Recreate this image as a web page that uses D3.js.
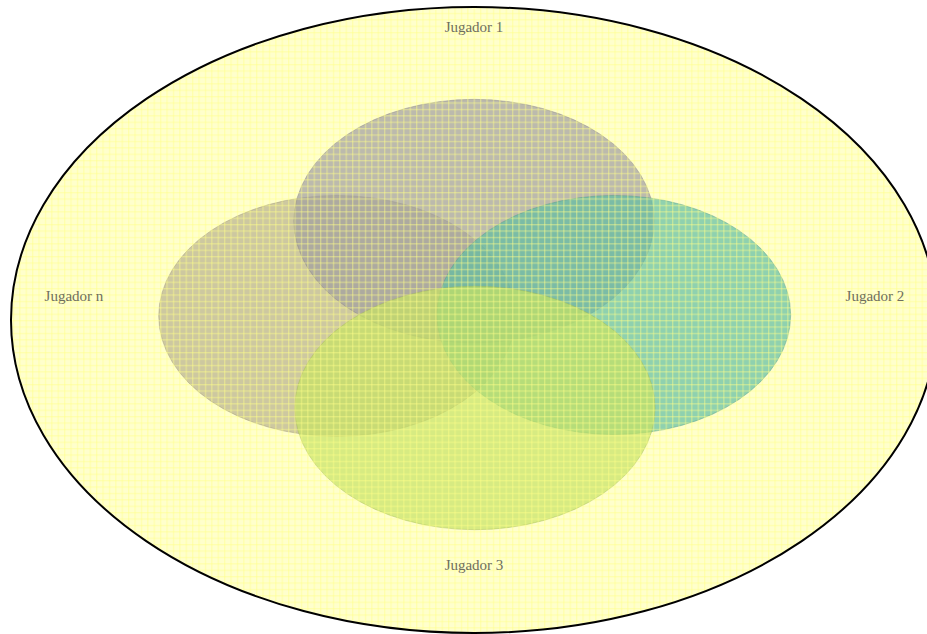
<!DOCTYPE html>
<html>
<head>
<meta charset="utf-8">
<script src="https://cdn.jsdelivr.net/npm/d3@7"></script>
<style>
  html, body { margin: 0; padding: 0; background: #ffffff; }
</style>
</head>
<body>
<div id="chart"></div>
<script>
// Sets (players) - centres and radii in normalised units of the outer ellipse
const players = ["Jugador 1", "Jugador n", "Jugador 2", "Jugador 3"];
const setX = [0, -29.6, 30.2, 0.2];
const setY = [-31.6, -1.3, -1.6, 28.1];
const setR = [38.9, 38.5, 38.2, 38.9];
const setColors = ["#a09ca0", "#b8b08d", "#5fbea3", "#c6e262"];
const drawOrder = [1, 0, 2, 3];

// label anchors for the players
const labelX = [0, -86.4, 86.6, 0];
const labelY = [-93.8, -7.7, -7.7, 78.2];

function createVennChart() {
    const width = 927, height = 634;

    const svg = d3.select("#chart").append("svg")
        .attr("width", width)
        .attr("height", height);

    // Outer universe ellipse spans [-100, 100] in both directions
    const xScale = d3.scaleLinear().domain([-100, 100]).range([11, 937]);
    const yScale = d3.scaleLinear().domain([-100, 100]).range([7, 633]);
    const rxScale = d3.scaleLinear().domain([0, 200]).range([0, 926]);
    const ryScale = d3.scaleLinear().domain([0, 200]).range([0, 626]);

    const defs = svg.append("defs");
    const grid = defs.append("pattern")
        .attr("id", "grid")
        .attr("width", 6.4)
        .attr("height", 6.4)
        .attr("patternUnits", "userSpaceOnUse");
    grid.append("rect")
        .attr("width", 1.3).attr("height", 6.4)
        .attr("fill", "#ffff88").attr("opacity", 0.45);
    grid.append("rect")
        .attr("width", 6.4).attr("height", 1.3)
        .attr("fill", "#ffff88").attr("opacity", 0.45);

    defs.append("clipPath").attr("id", "outer-clip")
        .append("ellipse")
        .attr("cx", xScale(0)).attr("cy", yScale(0))
        .attr("rx", rxScale(100)).attr("ry", ryScale(100));

    // universe
    svg.append("ellipse")
        .attr("cx", xScale(0))
        .attr("cy", yScale(0))
        .attr("rx", rxScale(100))
        .attr("ry", ryScale(100))
        .attr("fill", "#ffffcc");

    // sets
    svg.selectAll(".set")
        .data(drawOrder)
        .enter().append("ellipse")
        .attr("class", "set")
        .attr("cx", i => xScale(setX[i]))
        .attr("cy", i => yScale(setY[i]))
        .attr("rx", i => rxScale(setR[i]))
        .attr("ry", i => ryScale(setR[i]))
        .attr("fill", i => setColors[i])
        .attr("fill-opacity", 0.7)
        .attr("stroke", i => d3.color(setColors[i]).darker(0.6))
        .attr("stroke-opacity", 0.5)
        .attr("stroke-width", 0.8);

    // hatch texture over the whole universe
    svg.append("rect")
        .attr("width", width)
        .attr("height", height)
        .attr("fill", "url(#grid)")
        .attr("clip-path", "url(#outer-clip)");

    svg.append("ellipse")
        .attr("cx", xScale(0))
        .attr("cy", yScale(0))
        .attr("rx", rxScale(100))
        .attr("ry", ryScale(100))
        .attr("fill", "none")
        .attr("stroke", "#000000")
        .attr("stroke-width", 2);

    svg.selectAll(".player-label")
        .data(players)
        .enter().append("text")
        .attr("class", "player-label")
        .attr("x", (d, i) => xScale(labelX[i]))
        .attr("y", (d, i) => yScale(labelY[i]))
        .attr("text-anchor", "middle")
        .attr("dy", "0.35em")
        .style("font-family", "'Liberation Serif', 'Times New Roman', serif")
        .style("font-size", "15px")
        .style("fill", "#6e6e5e")
        .text(d => d);
}

createVennChart();
</script>
</body>
</html>
